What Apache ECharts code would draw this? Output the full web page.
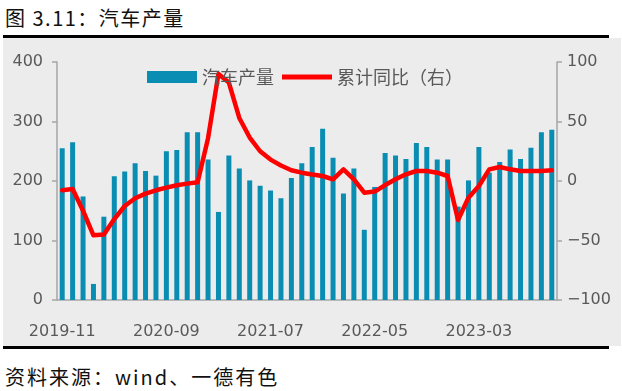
<!DOCTYPE html>
<html>
<head>
<meta charset="utf-8">
<script src="https://cdn.jsdelivr.net/npm/echarts@6/dist/echarts.min.js"></script>
<style>
  html, body { margin: 0; padding: 0; background: #ffffff; width: 622px; height: 391px; overflow: hidden; }
  #title { position: absolute; left: 5px; top: 6px; font-family: "Noto Sans CJK SC", sans-serif; font-size: 20px; letter-spacing: 1.5px; color: #111; line-height: 24px; }
  #topline { position: absolute; left: 3px; top: 35px; width: 606px; height: 3px; background: #000; }
  #panel { position: absolute; left: 3px; top: 38px; width: 618px; height: 308px; background: #edecec; }
  #botline { position: absolute; left: 3px; top: 346px; width: 606px; height: 3px; background: #000; }
  #source { position: absolute; left: 5px; top: 365px; font-family: "Noto Sans CJK SC", sans-serif; font-size: 20px; letter-spacing: 2px; color: #111; line-height: 24px; }
  #chart { position: absolute; left: 0; top: 0; width: 622px; height: 391px; }
</style>
</head>
<body>
<div id="title">图 3.11：汽车产量</div>
<div id="topline"></div>
<div id="panel"></div>
<div id="botline"></div>
<div id="source">资料来源：wind、一德有色</div>
<div id="chart"></div>
<script>
const categories = [
  "2019-11","2019-12","2020-01","2020-02","2020-03","2020-04","2020-05","2020-06","2020-07","2020-08",
  "2020-09","2020-10","2020-11","2020-12","2021-01","2021-02","2021-03","2021-04","2021-05","2021-06",
  "2021-07","2021-08","2021-09","2021-10","2021-11","2021-12","2022-01","2022-02","2022-03","2022-04",
  "2022-05","2022-06","2022-07","2022-08","2022-09","2022-10","2022-11","2022-12","2023-01","2023-02",
  "2023-03","2023-04","2023-05","2023-06","2023-07","2023-08","2023-09","2023-10"
];
const production = [
  255,265,174,27,140,208,216,230,217,209,
  250,252,282,282,236,148,243,221,201,192,
  184,171,205,230,257,288,239,179,221,118,
  190,247,243,237,264,257,236,236,157,201,
  257,214,232,253,237,256,282,286
];
const cumYoY = [
  -7.8,-6.7,-25,-45.6,-45,-32,-21,-14.5,-10.6,-7.8,
  -5.6,-3.6,-2.2,-1.1,36,90,82.7,53,36.5,25,
  18,13,9,7,5.5,4.2,1.4,9.8,1.4,-9.8,
  -8.9,-3.4,1.4,5.6,8.4,8.4,7,4.2,-32.8,-14,
  -4.2,9.8,11.8,9.8,8.4,8.4,8.4,9
];
const seriesNames = ["汽车产量", "累计同比（右）"];

const axisColor = "#a6a6a6";
const labelColor = "#595959";
const labelFont = "DejaVu Sans";

const chart = echarts.init(document.getElementById("chart"), null, { renderer: "canvas" });
chart.setOption({
  backgroundColor: "transparent",
  animation: false,
  grid: { left: 57, right: 65, top: 62, bottom: 91, containLabel: false },
  legend: {
    left: 142, top: 63,
    itemWidth: 50, itemHeight: 12, itemGap: 8,
    textStyle: { fontFamily: "Noto Sans CJK SC", fontSize: 18, color: "#595959" },
    data: [
      { name: seriesNames[0], icon: "rect" },
      { name: seriesNames[1], icon: "path://M0,0L100,0L100,10L0,10Z" }
    ]
  },
  xAxis: {
    type: "category",
    data: categories,
    boundaryGap: true,
    axisLine: { lineStyle: { color: axisColor, width: 1.5 } },
    axisTick: { interval: 9, length: 6, lineStyle: { color: axisColor, width: 1.5 } },
    axisLabel: { interval: 9, margin: 24, color: labelColor, fontFamily: labelFont, fontSize: 16 }
  },
  yAxis: [
    {
      type: "value", min: 0, max: 400, interval: 100,
      splitLine: { show: false },
      axisLine: { show: true, lineStyle: { color: axisColor, width: 1.5 } },
      axisTick: { show: true, length: 5, lineStyle: { color: axisColor, width: 1.5 } },
      axisLabel: { margin: 14, color: labelColor, fontFamily: labelFont, fontSize: 16 }
    },
    {
      type: "value", min: -100, max: 100, interval: 50,
      position: "right",
      splitLine: { show: false },
      axisLine: { show: true, lineStyle: { color: axisColor, width: 1.5 } },
      axisTick: { show: true, length: 5, lineStyle: { color: axisColor, width: 1.5 } },
      axisLabel: {
        margin: 10, color: labelColor, fontFamily: labelFont, fontSize: 16,
        formatter: v => String(v).replace("-", "\u2212")
      }
    }
  ],
  series: [
    {
      name: seriesNames[0],
      type: "bar",
      data: production,
      barWidth: 5,
      itemStyle: { color: "#0a8db3" }
    },
    {
      name: seriesNames[1],
      type: "line",
      yAxisIndex: 1,
      data: cumYoY,
      symbol: "none",
      smooth: false,
      lineStyle: { color: "#ff0000", width: 4.5, cap: "round", join: "round" },
      itemStyle: { color: "#ff0000" }
    }
  ]
});
</script>
</body>
</html>
